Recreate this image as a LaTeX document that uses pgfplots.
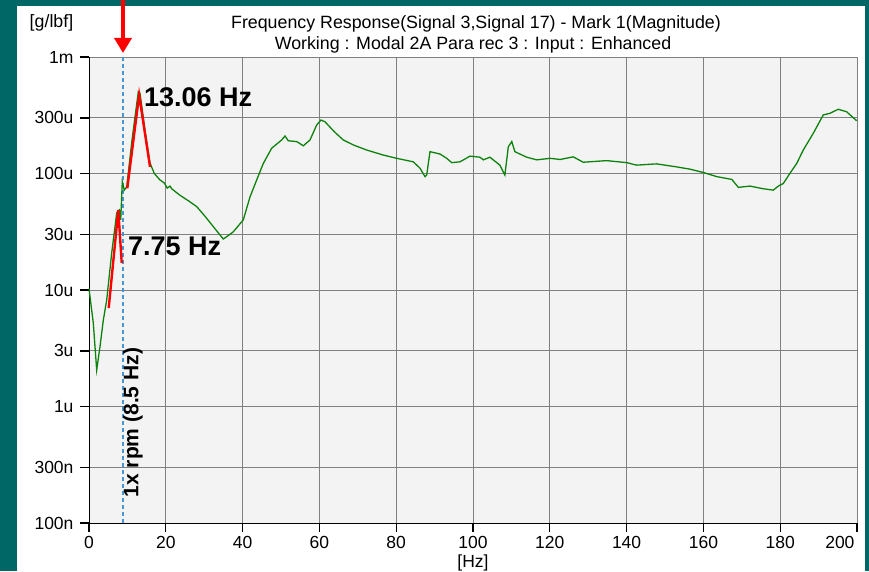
\documentclass[border=0pt]{standalone}
\usepackage{fontspec}
\setmainfont{Liberation Sans}
\usepackage{pgfplots}
\pgfplotsset{compat=1.18}
\usetikzlibrary{arrows.meta}
\definecolor{frame}{RGB}{0,102,102}
\definecolor{plotbg}{RGB}{243,243,243}
\definecolor{gridc}{RGB}{128,128,128}
\definecolor{curve}{RGB}{12,130,12}
\definecolor{cursor}{RGB}{70,150,210}
\begin{document}
\begin{tikzpicture}
\useasboundingbox (0,0) rectangle (869pt,571pt);
\fill[frame] (0,0) rectangle (869pt,571pt);
\fill[white] (17pt,0) rectangle (865pt,565pt);
\begin{axis}[
  at={(89pt,48pt)}, anchor=south west, scale only axis,
  width=768pt, height=466pt,
  xmin=0, xmax=200, ymin=1e-7, ymax=1e-3, ymode=log, enlargelimits=false,
  axis background/.style={fill=plotbg},
  axis line style={draw=none},
  clip=false,
  xtick={0,20,...,180},
  extra x ticks={200},
  extra x tick style={xticklabel style={anchor=north east, xshift=1pt}},
  ytick={1e-7,3e-7,1e-6,3e-6,1e-5,3e-5,1e-4,3e-4,1e-3},
  yticklabels={100n,300n,1u,3u,10u,30u,100u,300u,1m},
  minor tick num=0, yminorticks=false, xminorticks=false,
  tick pos=left,
  tick align=outside, major tick length=9pt,
  every tick/.style={black, line width=1.2pt},
  grid=major, major grid style={gridc, line width=0.9pt},
  ticklabel style={font=\fontsize{17.5}{20}\selectfont},
  yticklabel style={xshift=-3pt},
  xticklabel style={yshift=-1pt},
  /pgf/number format/assume math mode=true,
]
\draw[black, line width=0.9pt] (rel axis cs:0,1) -- (rel axis cs:0,0) -- (rel axis cs:1,0);
\pgfplotsinvokeforeach{0,20,40,60,80,100,120,140,160,180,200}{
  \draw[black, line width=1.2pt] (axis cs:#1,1e-7) -- ([yshift=-9pt]axis cs:#1,1e-7);
}
\pgfplotsinvokeforeach{1e-7,3e-7,1e-6,3e-6,1e-5,3e-5,1e-4,3e-4,1e-3}{
  \draw[black, line width=1.2pt] (axis cs:0,#1) -- ([xshift=-9pt]axis cs:0,#1);
}
\addplot[cursor, dashed, line width=1.3pt, dash pattern=on 4pt off 3pt] coordinates {(8.85,1e-7) (8.85,1e-3)};
\addplot[curve, line width=1.3pt] coordinates {
(0,1.03e-5) (1.12,5.2e-6) (2.0,2.06e-6) (2.86,3.26e-6) (3.72,5.5e-6) (4.61,8.2e-6)
(5.91,2.08e-5) (7.21,4.58e-5) (7.89,4.86e-5) (8.26,4.0e-5) (8.67,8.5e-5) (9.19,7.2e-5)
(9.82,7.7e-5) (11.2,1.94e-4) (12.84,5.04e-4) (13.28,4.9e-4) (14.58,2.36e-4) (15.89,1.23e-4)
(17.0,1.0e-4) (18.49,8.8e-5) (19.6,8.3e-5) (20.39,7.5e-5) (21.09,7.8e-5) (21.54,7.4e-5) (23.7,6.5e-5) (26.0,5.8e-5) (28.05,5.2e-5)
(30.2,4.3e-5) (32.37,3.5e-5) (34.97,2.74e-5) (35.86,2.87e-5) (37.58,3.16e-5) (40.18,4.0e-5) (41.93,6.3e-5)
(43.67,8.8e-5) (45.39,1.22e-4) (47.58,1.65e-4) (50.18,1.94e-4) (51.04,2.10e-4) (51.9,1.91e-4)
(54.09,1.88e-4) (55.81,1.73e-4) (57.55,1.94e-4) (59.3,2.61e-4) (60.42,2.88e-4) (61.46,2.78e-4)
(63.8,2.3e-4) (66.22,1.94e-4) (69.0,1.75e-4) (72.32,1.59e-4) (76.64,1.44e-4) (80.13,1.35e-4) (84.45,1.26e-4) (86.2,1.11e-4)
(87.5,9.4e-5) (87.94,9.7e-5) (88.8,1.54e-4) (91.41,1.47e-4) (93.15,1.35e-4) (94.45,1.24e-4)
(96.61,1.26e-4) (99.22,1.41e-4) (101.8,1.38e-4) (102.7,1.31e-4) (104.4,1.38e-4) (107.0,1.18e-4)
(108.3,9.7e-5) (109.2,1.70e-4) (110.1,1.88e-4) (110.9,1.54e-4) (114.0,1.38e-4) (116.6,1.31e-4)
(120.1,1.35e-4) (122.7,1.32e-4) (126.1,1.39e-4) (128.7,1.25e-4) (134.8,1.29e-4) (140.0,1.24e-4)
(142.6,1.18e-4) (147.8,1.21e-4) (153.0,1.14e-4) (156.5,1.09e-4) (160.0,1.02e-4) (163.5,9.4e-5)
(167.4,8.9e-5) (169.1,7.6e-5) (172.1,7.8e-5) (175.6,7.4e-5) (178.2,7.2e-5) (179.5,7.8e-5)
(180.8,8.2e-5) (182.5,1.00e-4) (184.3,1.22e-4) (186.0,1.59e-4) (188.6,2.21e-4) (191.2,3.18e-4)
(193.0,3.29e-4) (195.1,3.56e-4) (197.3,3.39e-4) (199.9,2.84e-4)
};
\addplot[red, line width=2.4pt] coordinates {(5.13,7.0e-6) (7.63,4.86e-5) (8.52,1.71e-5)};
\addplot[red, line width=2.4pt] coordinates {(9.97,7.46e-5) (13.06,4.72e-4) (15.89,1.14e-4)};
\end{axis}
\node[anchor=base, font=\fontsize{17.8}{20}\selectfont] at (476pt,542.5pt) {Frequency Response(Signal 3,Signal 17) - Mark 1(Magnitude)};
\node[anchor=base, font=\fontsize{17.8}{20}\selectfont] at (473pt,521pt) {Working : Modal 2A Para  rec 3 : Input : Enhanced};
\node[anchor=base, font=\fontsize{17.8}{20}\selectfont] at (51.5pt,543pt) {[g/lbf]};
\node[anchor=base, font=\fontsize{17.5}{20}\selectfont] at (473pt,4pt) {[Hz]};
\node[anchor=base west, inner sep=0pt, font=\fontsize{27}{30}\selectfont\bfseries] at (144pt,464pt) {13.06 Hz};
\node[anchor=base west, inner sep=0pt, font=\fontsize{27}{30}\selectfont\bfseries] at (128pt,316pt) {7.75 Hz};
\node[rotate=90, inner sep=0pt, font=\fontsize{21}{24}\selectfont\bfseries] at (133pt,148.5pt) {1x rpm (8.5 Hz)};
\draw[red, line width=3.5pt, -{Triangle[width=17pt,length=15pt]}] (123pt,575pt) -- (123pt,518pt);
\end{tikzpicture}
\end{document}
